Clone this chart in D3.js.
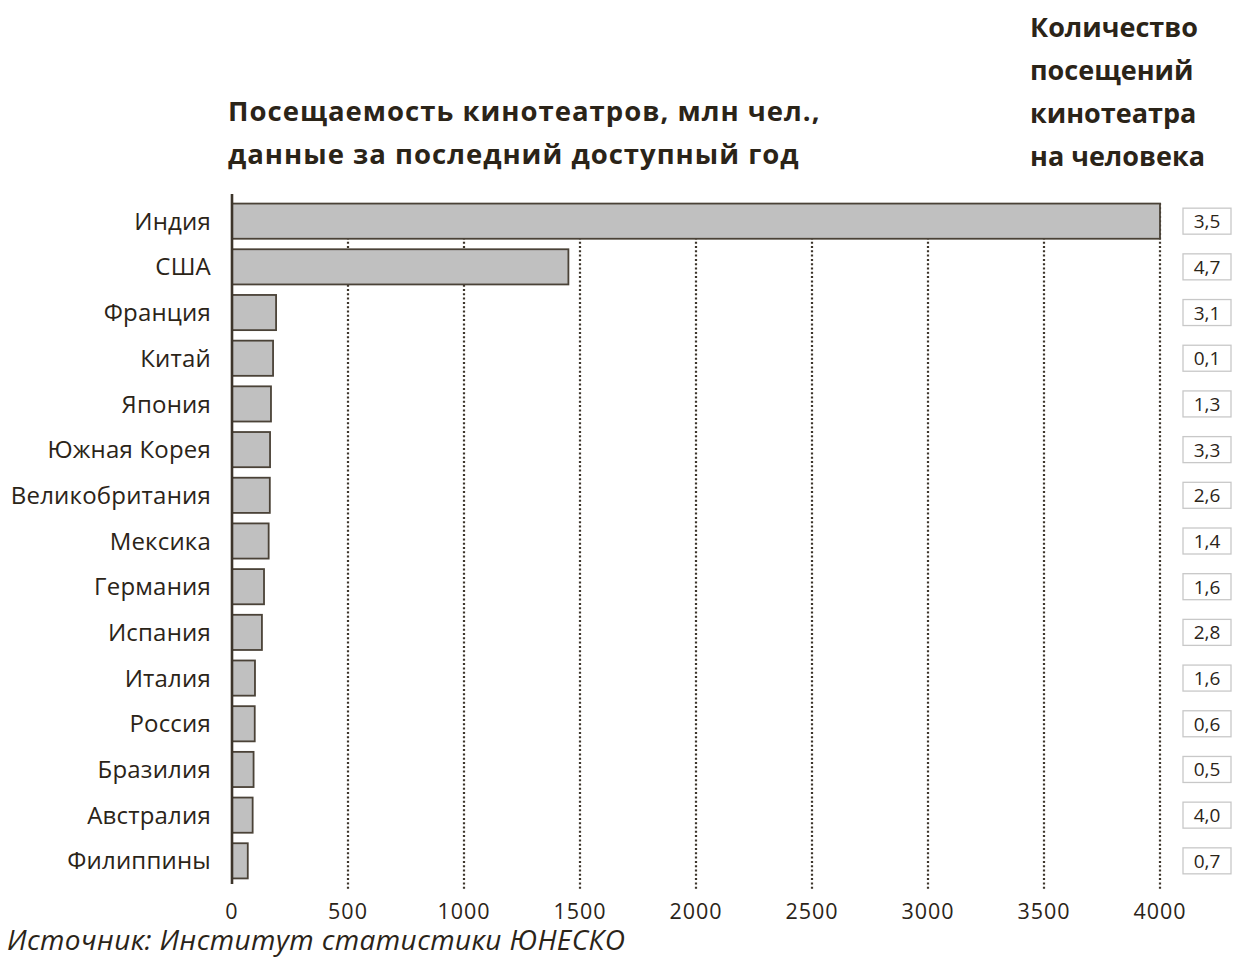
<!DOCTYPE html>
<html>
<head>
<meta charset="utf-8">
<script src="https://cdn.jsdelivr.net/npm/d3@7"></script>
<style>
  body { margin: 0; background: #fff; }
  text { font-family: "Open Sans", "Noto Sans", sans-serif; fill: #2b2418; }
</style>
</head>
<body>
<div id="chart"></div>
<script>
// data
var countries = ["Индия", "США", "Франция", "Китай", "Япония", "Южная Корея", "Великобритания",
                 "Мексика", "Германия", "Испания", "Италия", "Россия", "Бразилия", "Австралия", "Филиппины"];
var attendance = [4000, 1450, 190, 177, 168, 164, 163, 158, 138, 129, 99, 98, 93, 89, 68];
var perCapita = ["3,5", "4,7", "3,1", "0,1", "1,3", "3,3", "2,6", "1,4", "1,6", "2,8", "1,6", "0,6", "0,5", "4,0", "0,7"];
var ticks = [0, 500, 1000, 1500, 2000, 2500, 3000, 3500, 4000];

var width = 1236, height = 957;
var ink = "#3d352b";

var svg = d3.select("#chart").append("svg")
    .attr("width", width)
    .attr("height", height);

var x = d3.scaleLinear().domain([0, 4000]).range([232, 1160]);
var y = d3.scaleBand().domain(countries).range([199, 883]).paddingInner(0.23).paddingOuter(0.1);

// dotted grid
svg.append("g").selectAll("line")
    .data(ticks.slice(1))
    .enter().append("line")
    .attr("x1", function(d) { return x(d); })
    .attr("x2", function(d) { return x(d); })
    .attr("y1", 203)
    .attr("y2", 889)
    .attr("stroke", ink)
    .attr("stroke-width", 2.2)
    .attr("stroke-dasharray", "2,2.3");

// bars
svg.append("g").selectAll("rect")
    .data(countries)
    .enter().append("rect")
    .attr("x", x(0))
    .attr("y", function(d) { return y(d); })
    .attr("width", function(d, i) { return x(attendance[i]) - x(0); })
    .attr("height", y.bandwidth())
    .attr("fill", "#c0c0c0")
    .attr("stroke", "#4a4237")
    .attr("stroke-width", 1.8);

// left axis line
svg.append("line")
    .attr("x1", x(0)).attr("x2", x(0))
    .attr("y1", 194).attr("y2", 884)
    .attr("stroke", ink).attr("stroke-width", 2.6);

// country labels
svg.append("g").selectAll("text")
    .data(countries)
    .enter().append("text")
    .attr("x", 211)
    .attr("y", function(d) { return y(d) + y.bandwidth() / 2; })
    .attr("dy", "0.36em")
    .attr("text-anchor", "end")
    .style("font-size", "24px")
    .style("letter-spacing", "0.2px")
    .text(function(d) { return d; });

// bottom tick labels
svg.append("g").selectAll("text")
    .data(ticks)
    .enter().append("text")
    .attr("x", function(d) { return x(d); })
    .attr("y", 919)
    .attr("text-anchor", "middle")
    .style("font-size", "21.5px")
    .style("letter-spacing", "1px")
    .text(function(d) { return d; });

// per-capita boxes
var box = svg.append("g").selectAll("g")
    .data(countries)
    .enter().append("g")
    .attr("transform", function(d) { return "translate(1183," + (y(d) + y.bandwidth() / 2 - 13) + ")"; });

box.append("rect")
    .attr("width", 48)
    .attr("height", 26)
    .attr("fill", "#fff")
    .attr("stroke", "#c8c8c8")
    .attr("stroke-width", 1.3);

box.append("text")
    .attr("x", 24)
    .attr("y", 20)
    .attr("text-anchor", "middle")
    .style("font-size", "19px")
    .text(function(d, i) { return perCapita[i]; });

// titles
var title = svg.append("text")
    .style("font-size", "27.5px")
    .style("font-weight", "bold")
    .style("letter-spacing", "1px");
title.append("tspan").attr("x", 228).attr("y", 121).text("Посещаемость кинотеатров, млн чел.,");
title.append("tspan").attr("x", 228).attr("y", 164).text("данные за последний доступный год");

var rtitle = svg.append("text")
    .style("font-size", "27px")
    .style("font-weight", "bold");
["Количество", "посещений", "кинотеатра", "на человека"].forEach(function(s, i) {
  rtitle.append("tspan").attr("x", 1030).attr("y", 37 + i * 43).text(s);
});

// source
svg.append("text")
    .attr("x", 7)
    .attr("y", 950)
    .style("font-size", "28px")
    .style("font-style", "italic")
    .style("letter-spacing", "0.4px")
    .text("Источник: Институт статистики ЮНЕСКО");
</script>
</body>
</html>
